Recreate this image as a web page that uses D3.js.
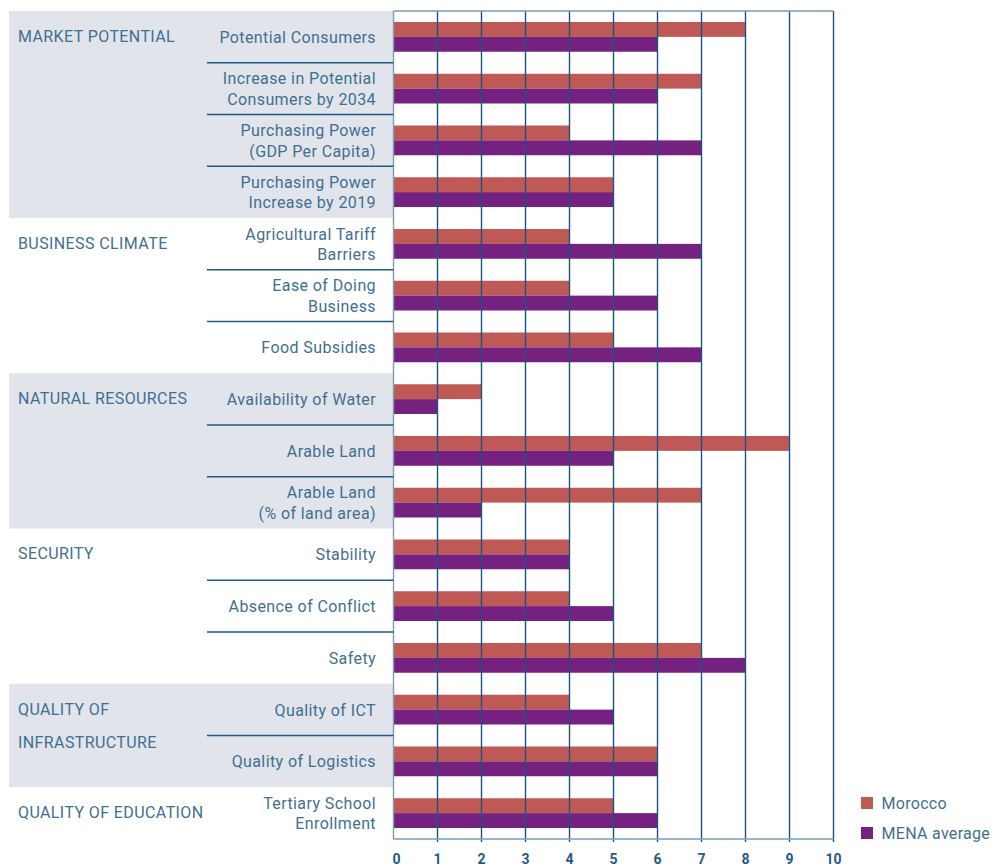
<!DOCTYPE html>
<html>
<head>
<meta charset="utf-8">
<script src="https://cdn.jsdelivr.net/npm/d3@7"></script>
<style>
  body { margin: 0; background: #fff; }
  text { font-family: Roboto, "Noto Sans", sans-serif; }
</style>
</head>
<body>
<div id="chart"></div>
<script>
// categories (one per row, lines split by "|")
const rowLabels = [
    'Potential Consumers',
    'Increase in Potential|Consumers by 2034',
    'Purchasing Power|(GDP Per Capita)',
    'Purchasing Power|Increase by 2019',
    'Agricultural Tariff|Barriers',
    'Ease of Doing|Business',
    'Food Subsidies',
    'Availability of Water',
    'Arable Land',
    'Arable Land|(% of land area)',
    'Stability',
    'Absence of Conflict',
    'Safety',
    'Quality of ICT',
    'Quality of Logistics',
    'Tertiary School|Enrollment'
];
const morocco = [8, 7, 4, 5, 4, 4, 5, 2, 9, 7, 4, 4, 7, 4, 6, 5];
const mena    = [6, 6, 7, 5, 7, 6, 7, 1, 5, 2, 4, 5, 8, 5, 6, 6];

// groups of rows
const groupNames = ['MARKET POTENTIAL', 'BUSINESS CLIMATE', 'NATURAL RESOURCES', 'SECURITY', 'QUALITY OF|INFRASTRUCTURE', 'QUALITY OF EDUCATION'];
const groupSizes = [4, 3, 3, 3, 2, 1];

const seriesNames = ['Morocco', 'MENA average'];
const tickValues = [0, 1, 2, 3, 4, 5, 6, 7, 8, 9, 10];

const colors = { 'Morocco': '#bf5955', 'MENA average': '#74217f' };

// dimensiones
const margin = { top: 11, right: 160.5, bottom: 27, left: 393.5 },
    width = 994 - margin.left - margin.right,
    height = 866 - margin.top - margin.bottom;

const svgRoot = d3.select('#chart').append('svg')
    .attr('width', 994)
    .attr('height', 866);

const svg = svgRoot.append('g')
    .attr('transform', `translate(${margin.left}, ${margin.top})`);

const x = d3.scaleLinear().domain([0, 10]).range([0, width]);
const y = d3.scaleBand().domain(d3.range(rowLabels.length)).range([0, height]);
const ySub = d3.scaleBand().domain(seriesNames).range([0, y.bandwidth()]).paddingOuter(0.74);

// construir los grupos
let start = 0;
const groups = groupNames.map((name, i) => {
    const g = { name: name, first: start, last: start + groupSizes[i] - 1, shaded: i % 2 === 0 };
    start += groupSizes[i];
    return g;
});

// fondo gris de los grupos
svg.selectAll('rect.bg')
    .data(groups.filter(g => g.shaded))
    .join('rect')
    .attr('class', 'bg')
    .attr('x', 9 - margin.left)
    .attr('y', g => y(g.first))
    .attr('width', margin.left - 9)
    .attr('height', g => y(g.last) + y.bandwidth() - y(g.first))
    .attr('fill', '#e1e4eb');

// barras
const rows = rowLabels.map((label, i) => ({ i: i, label: label, values: [morocco[i], mena[i]] }));

const rowG = svg.selectAll('g.row')
    .data(rows)
    .join('g')
    .attr('class', 'row')
    .attr('transform', d => `translate(0, ${y(d.i)})`);

rowG.selectAll('rect')
    .data(d => seriesNames.map((s, k) => ({ key: s, value: d.values[k] })))
    .join('rect')
    .attr('x', x(0))
    .attr('y', d => ySub(d.key))
    .attr('width', d => x(d.value) - x(0))
    .attr('height', ySub.bandwidth())
    .attr('fill', d => colors[d.key]);

// lineas verticales
svg.selectAll('line.grid')
    .data(tickValues.filter(t => t > 0))
    .join('line')
    .attr('class', 'grid')
    .attr('x1', d => x(d)).attr('x2', d => x(d))
    .attr('y1', 0).attr('y2', height + 3)
    .attr('stroke', '#1b5382')
    .attr('stroke-width', 1.4);

// bordes del eje
svg.append('line')
    .attr('x1', 0).attr('x2', width).attr('y1', 0).attr('y2', 0)
    .attr('stroke', '#7d9db5').attr('stroke-width', 1.4);
svg.append('line')
    .attr('x1', 0).attr('x2', width).attr('y1', height).attr('y2', height)
    .attr('stroke', '#7d9db5').attr('stroke-width', 1.4);
svg.append('line')
    .attr('x1', 0).attr('x2', 0).attr('y1', 0).attr('y2', height)
    .attr('stroke', '#7d9db5').attr('stroke-width', 1.4);

// etiquetas del eje X
svg.selectAll('text.tick')
    .data(tickValues)
    .join('text')
    .attr('class', 'tick')
    .attr('x', d => x(d) + (d === 0 ? 3 : 0))
    .attr('y', height + 25)
    .attr('text-anchor', 'middle')
    .attr('fill', '#1f5a85')
    .style('font-size', '14px')
    .style('font-weight', 'bold')
    .text(d => d);

// separadores entre filas dentro de un grupo
const separators = [];
groups.forEach(g => {
    for (let r = g.first + 1; r <= g.last; r++) separators.push(r);
});
svg.selectAll('line.sep')
    .data(separators)
    .join('line')
    .attr('class', 'sep')
    .attr('x1', 207 - margin.left).attr('x2', 0)
    .attr('y1', d => y(d)).attr('y2', d => y(d))
    .attr('stroke', '#1f5a85')
    .attr('stroke-width', 1.3);

// etiquetas de filas
const lineH = 20.5;
svg.selectAll('text.rowlabel')
    .data(rows)
    .join('text')
    .attr('class', 'rowlabel')
    .attr('text-anchor', 'end')
    .attr('fill', '#3f7090')
    .style('font-size', '16px')
    .style('letter-spacing', '0.4px')
    .each(function (d) {
        const lines = d.label.split('|');
        const cy = y(d.i) + y.bandwidth() / 2;
        d3.select(this).selectAll('tspan')
            .data(lines)
            .join('tspan')
            .attr('x', 376 - margin.left)
            .attr('y', (l, k) => cy + 6 + (k - (lines.length - 1) / 2) * lineH)
            .text(l => l);
    });

// etiquetas de grupos
svg.selectAll('text.grouplabel')
    .data(groups)
    .join('text')
    .attr('class', 'grouplabel')
    .attr('fill', '#3f7090')
    .style('font-size', '16px')
    .style('letter-spacing', '0.4px')
    .each(function (g) {
        const lines = g.name.split('|');
        const cy = y(g.first) + y.bandwidth() / 2;
        d3.select(this).selectAll('tspan')
            .data(lines)
            .join('tspan')
            .attr('x', 18 - margin.left)
            .attr('y', (l, k) => cy + 5 + k * 33.5)
            .text(l => l);
    });

// leyenda
const legend = svg.selectAll('g.legend')
    .data(seriesNames)
    .join('g')
    .attr('class', 'legend')
    .attr('transform', (d, i) => `translate(${861 - margin.left}, ${797 - margin.top + i * 30})`);

legend.append('rect')
    .attr('width', 12)
    .attr('height', 12)
    .attr('fill', d => colors[d]);

legend.append('text')
    .attr('x', 20.5)
    .attr('y', 11.5)
    .attr('fill', '#3f7090')
    .style('font-size', '16px')
    .style('letter-spacing', '0.3px')
    .text(d => d);
</script>
</body>
</html>
